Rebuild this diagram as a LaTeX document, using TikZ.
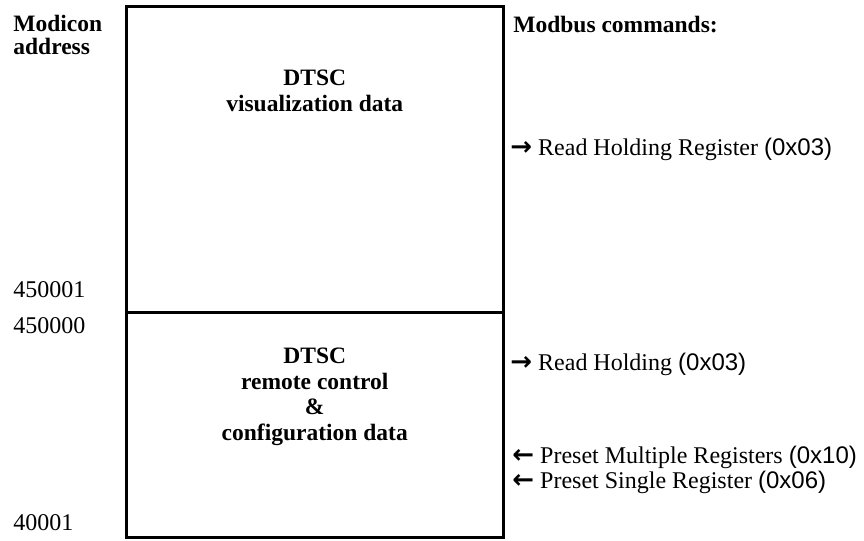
\documentclass[tikz,border=0pt]{standalone}
\usepackage{fontspec}
\setmainfont{Liberation Serif}
\newfontfamily\hexfont{Liberation Sans}
\newfontfamily\arrfont{DejaVu Sans}
\newcommand{\hx}[1]{{\hexfont(#1)}}
\newcommand{\rarr}{{\arrfont\bfseries\fontsize{13}{13}\selectfont →}\hspace{3pt}}
\newcommand{\larr}{{\arrfont\bfseries\fontsize{13}{13}\selectfont ←}\hspace{3pt}}

\tikzset{
    frame/.style={line width=1.5pt},
    lbl/.style={inner sep=0pt, anchor=base west, font=\fontsize{12}{12}\selectfont},
    title/.style={inner sep=0pt, anchor=north, align=center, font=\fontsize{11.75}{12.75}\selectfont\bfseries},
}

\begin{document}
\begin{tikzpicture}[x=0.5pt, y=-0.5pt]

    \useasboundingbox (0,0) rectangle (864,541);

    % REGISTER BLOCK
    \draw[frame] (126.5,6.5) rectangle (503,537);
    \draw[frame] (126.5,312) -- (503,312);

    % BLOCK TITLES
    \node[title] (vis) at (314.75,70) {DTSC\\visualization data};
    \node[title] (rem) at (314.75,348) {DTSC\\remote control\\\&\\configuration data};

    % MODICON ADDRESSES
    \node[title, anchor=north west, align=left, font=\fontsize{11.75}{11.5}\selectfont\bfseries] (addr) at (13,15) {Modicon\\address};
    \node[lbl] (a450001) at (13,297) {450001};
    \node[lbl] (a450000) at (13,333) {450000};
    \node[lbl] (a40001) at (13,530) {40001};

    % MODBUS COMMANDS
    \node[lbl, font=\fontsize{11.75}{12}\selectfont\bfseries] (cmd) at (513,32) {Modbus commands:};
    \node[lbl] (rhr) at (510,155) {\rarr Read Holding Register \hx{0x03}};
    \node[lbl] (rh) at (510,370) {\rarr Read Holding \hx{0x03}};
    \node[lbl] (pmr) at (512,463) {\larr Preset Multiple Registers \hx{0x10}};
    \node[lbl] (psr) at (512,488) {\larr Preset Single Register \hx{0x06}};

\end{tikzpicture}
\end{document}
